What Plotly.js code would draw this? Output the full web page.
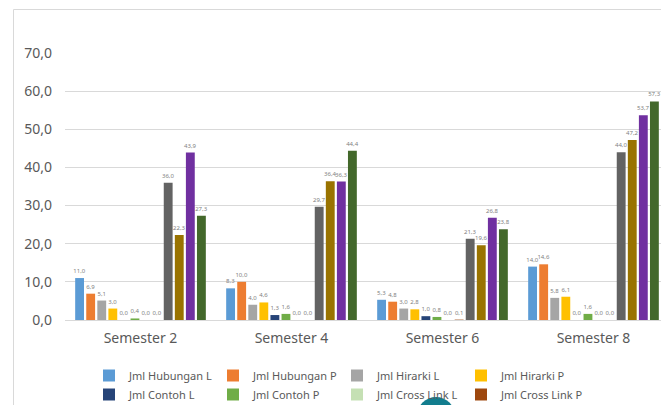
<!DOCTYPE html>
<html>
<head>
<meta charset="utf-8">
<script src="https://cdn.plot.ly/plotly-3.0.1.min.js"></script>
<style>
html,body{margin:0;padding:0;width:661px;height:405px;overflow:hidden;background:#fff;}
#chart{width:680px;height:405px;}
</style>
</head>
<body>
<div id="chart"></div>
<script>
var categories = ["Semester 2", "Semester 4", "Semester 6", "Semester 8"];
var seriesNames = ["Jml Hubungan L", "Jml Hubungan P", "Jml Hirarki L", "Jml Hirarki P",
                   "Jml Contoh L", "Jml Contoh P", "Jml Cross Link L", "Jml Cross Link P",
                   "Jml Konsep L", "Jml Konsep P", "Skor Total L", "Skor Total P"];
var hubunganL  = [11.0, 8.3, 5.3, 14.0];
var hubunganP  = [6.9, 10.0, 4.8, 14.6];
var hirarkiL   = [5.1, 4.0, 3.0, 5.8];
var hirarkiP   = [3.0, 4.6, 2.8, 6.1];
var contohL    = [0.0, 1.3, 1.0, 0.0];
var contohP    = [0.4, 1.6, 0.8, 1.6];
var crossLinkL = [0.0, 0.0, 0.0, 0.0];
var crossLinkP = [0.0, 0.0, 0.1, 0.0];
var konsepL    = [36.0, 29.7, 21.3, 44.0];
var konsepP    = [22.3, 36.4, 19.6, 47.2];
var skorL      = [43.9, 36.3, 26.8, 53.7];
var skorP      = [27.3, 44.4, 23.8, 57.3];
var yTicks = [0, 10, 20, 30, 40, 50, 60, 70];

var seriesValues = [hubunganL, hubunganP, hirarkiL, hirarkiP, contohL, contohP,
                    crossLinkL, crossLinkP, konsepL, konsepP, skorL, skorP];
var colors = ["#5B9BD5", "#ED7D31", "#A5A5A5", "#FFC000", "#264478", "#70AD47",
              "#C5E0B4", "#9E480E", "#636363", "#997300", "#7030A0", "#43682B"];

var FONT = "Noto Sans, Open Sans, sans-serif";
var traces = seriesValues.map(function (vals, i) {
  return {
    type: "bar",
    name: seriesNames[i],
    x: categories,
    y: vals,
    marker: {color: colors[i]},
    texttemplate: "%{y:.1f}",
    textposition: "outside",
    textangle: 0,
    constraintext: "none",
    cliponaxis: false,
    textfont: {size: 6, color: "#7F7F7F", family: FONT},
    hoverinfo: "skip"
  };
});

// pixel -> paper helpers (plot area: x 65..669, y 53..320)
function px(x){ return (x - 65) / 604; }
function py(y){ return (320 - y) / 267; }

var layout = {
  width: 680,
  height: 405,
  margin: {l: 65, r: 11, t: 53, b: 85, autoexpand: false},
  paper_bgcolor: "#ffffff",
  plot_bgcolor: "#ffffff",
  separators: ",.",
  barmode: "group",
  bargap: 0.12,
  bargroupgap: 0.2,
  font: {family: FONT, color: "#595959"},
  xaxis: {
    type: "category",
    showline: true,
    linecolor: "#D9D9D9",
    linewidth: 1,
    ticks: "",
    tickfont: {size: 14, color: "#595959", family: FONT},
    ticklabelstandoff: 5,
    showgrid: false,
    zeroline: false,
    fixedrange: true
  },
  yaxis: {
    range: [0, 70],
    tickvals: yTicks,
    tickformat: ".1f",
    tickfont: {size: 14, color: "#595959", family: FONT},
    showgrid: true,
    gridcolor: "#D9D9D9",
    gridwidth: 1,
    zeroline: false,
    showline: false,
    ticks: "",
    ticklabelstandoff: 12,
    fixedrange: true
  },
  showlegend: true,
  legend: {
    orientation: "h",
    x: px(89),
    xanchor: "left",
    y: py(361),
    yanchor: "top",
    entrywidth: 79,
    entrywidthmode: "pixels",
    itemwidth: 30,
    tracegroupgap: 0,
    font: {size: 11, color: "#595959", family: FONT},
    bgcolor: "rgba(0,0,0,0)"
  },
  shapes: [
    {type: "rect", xref: "paper", yref: "paper",
     x0: px(13.5), x1: px(700), y0: py(460), y1: py(9.5),
     line: {color: "#D9D9D9", width: 1}, fillcolor: "rgba(0,0,0,0)", layer: "below"},
    {type: "circle", xref: "paper", yref: "paper",
     x0: px(417), x1: px(455), y0: py(435), y1: py(397),
     line: {width: 0}, fillcolor: "#127D8E", layer: "above"}
  ]
};

Plotly.newPlot("chart", traces, layout, {displayModeBar: false, staticPlot: true});
</script>
</body>
</html>
